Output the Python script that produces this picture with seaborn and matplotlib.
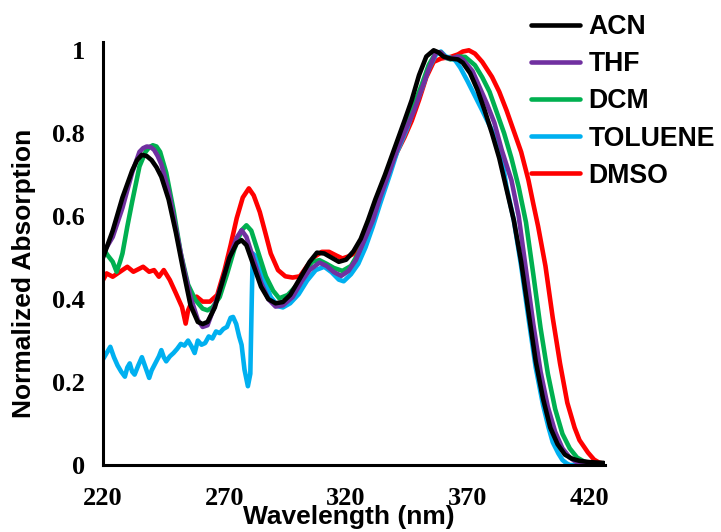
import matplotlib
matplotlib.use("Agg")
import matplotlib.pyplot as plt
import seaborn as sns
import pandas as pd
from matplotlib.lines import Line2D

# ---------------- data ----------------
series_names = ["ACN", "THF", "DCM", "TOLUENE", "DMSO"]
colors = {"ACN": "#000000", "THF": "#7030A0", "DCM": "#00B050",
          "TOLUENE": "#00B0F0", "DMSO": "#FF0000"}

acn_x = [220, 224, 228, 232, 234, 236, 238, 240, 242, 244, 247, 250, 253, 256, 259, 261, 263, 266, 269,
         272, 275, 277, 279, 282, 285, 288, 291, 294, 297, 301, 305, 308, 311, 314, 317, 320, 323, 326,
         329, 332, 336, 340, 344, 347, 350, 353, 356, 358, 360, 363, 366, 368, 371, 374, 377, 380, 383,
         386, 389, 392, 395, 398, 401, 404, 407, 410, 413, 416, 420, 426]
acn_y = [0.50, 0.565, 0.645, 0.71, 0.735, 0.748, 0.745, 0.735, 0.718, 0.695, 0.64, 0.56, 0.47, 0.385,
         0.345, 0.34, 0.345, 0.38, 0.44, 0.50, 0.535, 0.542, 0.53, 0.48, 0.43, 0.40, 0.39, 0.393, 0.41,
         0.45, 0.49, 0.512, 0.51, 0.50, 0.49, 0.495, 0.515, 0.545, 0.59, 0.64, 0.70, 0.765, 0.83, 0.88,
         0.94, 0.985, 1.0, 0.995, 0.985, 0.98, 0.978, 0.97, 0.945, 0.905, 0.855, 0.80, 0.74, 0.665, 0.59,
         0.49, 0.37, 0.25, 0.16, 0.09, 0.05, 0.025, 0.015, 0.01, 0.007, 0.005]

thf_x = [220, 224, 228, 232, 235, 236.5, 238, 239.5, 241, 242.5, 244, 247, 250, 253, 256, 259, 261, 263,
         266, 269, 272, 275, 277, 279, 282, 285, 288, 291, 294, 298, 302, 305, 309, 312, 315, 318, 321,
         324, 327, 331, 334, 338, 341, 345, 348, 351, 354, 357, 359, 361, 363, 366, 368, 372, 375, 378,
         381, 384, 388, 391, 394, 397, 400, 403, 406, 409, 412, 415, 419, 426]
thf_y = [0.51, 0.55, 0.62, 0.705, 0.755, 0.764, 0.768, 0.767, 0.76, 0.745, 0.725, 0.66, 0.57, 0.48,
         0.405, 0.35, 0.333, 0.337, 0.385, 0.44, 0.50, 0.548, 0.566, 0.55, 0.495, 0.44, 0.40, 0.382,
         0.385, 0.405, 0.445, 0.47, 0.488, 0.48, 0.465, 0.456, 0.468, 0.494, 0.535, 0.59, 0.645, 0.71,
         0.76, 0.815, 0.855, 0.905, 0.955, 0.995, 0.995, 0.982, 0.98, 0.985, 0.978, 0.95, 0.91, 0.87,
         0.825, 0.76, 0.687, 0.60, 0.47, 0.34, 0.225, 0.14, 0.08, 0.04, 0.018, 0.006, 0.0, 0.0]

dcm_x = [220, 222, 224, 225.6, 227, 228, 230, 232, 235, 237.5, 239, 240.5, 242, 243.5, 246, 249, 252,
         255, 258, 261, 263, 265, 268, 271, 274, 277, 279, 281, 284, 287, 290, 292.5, 296, 300, 303, 306,
         309, 312, 315, 318.5, 322, 325, 329, 333, 337, 341, 345, 348, 351, 354, 357, 359, 361, 363, 366,
         369, 373, 376, 379, 382, 385, 388, 391, 394, 397, 400, 403, 406, 409, 412, 415, 418, 421, 424,
         426]
dcm_y = [0.522, 0.505, 0.49, 0.466, 0.49, 0.51, 0.575, 0.635, 0.72, 0.755, 0.766, 0.771, 0.768, 0.755,
         0.705, 0.615, 0.51, 0.435, 0.398, 0.377, 0.373, 0.38, 0.405, 0.46, 0.52, 0.566, 0.578, 0.565,
         0.51, 0.455, 0.42, 0.402, 0.41, 0.435, 0.465, 0.49, 0.494, 0.485, 0.475, 0.468, 0.48, 0.51,
         0.565, 0.635, 0.705, 0.77, 0.83, 0.87, 0.915, 0.965, 0.995, 0.995, 0.982, 0.978, 0.985, 0.984,
         0.964, 0.935, 0.90, 0.85, 0.80, 0.74, 0.67, 0.585, 0.46, 0.33, 0.22, 0.135, 0.075, 0.04, 0.018,
         0.008, 0.003, 0.0, 0.0]

tol_x = [220, 221.5, 223, 224.5, 226, 227.5, 229, 230, 231, 232, 233, 234.5, 236, 237.5, 239, 240, 241.5,
         243, 244, 245, 246, 247.5, 249, 250.5, 252, 253.5, 255, 256.5, 257.7, 259, 260.5, 262, 263.5,
         265, 266.5, 268, 269.5, 271, 272.5, 273.5, 274.8, 276, 277, 278.2, 279.6, 280.6, 281.2, 281.6,
         283.5, 286, 289, 292, 294, 297, 300.5, 304, 307.5, 311, 314, 317, 319, 322, 325, 328, 331, 334,
         338, 341, 345, 348, 351, 354, 357, 359, 361, 363, 365, 367, 370, 373, 376, 380, 384, 386, 389,
         392, 395, 398, 401, 403.2, 405, 407.3, 409, 410.7, 412, 426]
tol_y = [0.255, 0.27, 0.285, 0.26, 0.24, 0.225, 0.213, 0.235, 0.245, 0.225, 0.218, 0.24, 0.26, 0.235,
         0.21, 0.228, 0.245, 0.262, 0.277, 0.26, 0.25, 0.262, 0.27, 0.28, 0.292, 0.288, 0.30, 0.285, 0.27,
         0.30, 0.29, 0.294, 0.31, 0.305, 0.322, 0.318, 0.328, 0.333, 0.355, 0.357, 0.34, 0.31, 0.29, 0.23,
         0.19, 0.22, 0.40, 0.51, 0.50, 0.45, 0.405, 0.383, 0.38, 0.39, 0.412, 0.445, 0.47, 0.478, 0.465,
         0.447, 0.443, 0.46, 0.485, 0.525, 0.575, 0.63, 0.70, 0.755, 0.81, 0.86, 0.905, 0.955, 0.99,
         0.997, 0.985, 0.982, 0.975, 0.958, 0.925, 0.89, 0.855, 0.807, 0.743, 0.67, 0.59, 0.48, 0.355,
         0.235, 0.145, 0.092, 0.055, 0.028, 0.012, 0.004, 0.0, 0.0]

dmso_x = [220, 221.5, 224, 227, 230, 232.5, 236.5, 239, 241, 243, 245, 247.5, 250, 252.5, 254, 255, 257,
          258.5, 261, 264, 267, 270, 272.5, 275, 277.5, 280, 282, 284.5, 287, 289, 292, 295, 298, 301,
          304, 307, 310, 313, 316, 318.5, 321, 324, 327, 330, 333, 337, 341, 344, 347, 350, 353, 356, 359,
          363, 366, 368, 370.5, 373, 376, 380, 383, 386, 389, 392, 395, 397, 399, 402, 405, 408, 411, 414,
          416, 419.5, 422, 424, 426]
dmso_y = [0.446, 0.462, 0.454, 0.466, 0.478, 0.466, 0.478, 0.466, 0.47, 0.454, 0.47, 0.446, 0.414, 0.381,
          0.341, 0.373, 0.40, 0.406, 0.394, 0.394, 0.41, 0.47, 0.53, 0.595, 0.645, 0.667, 0.65, 0.61,
          0.555, 0.51, 0.47, 0.455, 0.452, 0.455, 0.48, 0.502, 0.514, 0.514, 0.505, 0.498, 0.503, 0.512,
          0.545, 0.595, 0.64, 0.70, 0.755, 0.79, 0.83, 0.88, 0.935, 0.972, 0.98, 0.984, 0.99, 0.997, 1.0,
          0.992, 0.972, 0.936, 0.90, 0.855, 0.805, 0.755, 0.687, 0.63, 0.575, 0.48, 0.355, 0.245, 0.15,
          0.09, 0.06, 0.03, 0.013, 0.006, 0.003]

x_ticks = [220, 270, 320, 370, 420]
y_ticks = [0, 0.2, 0.4, 0.6, 0.8, 1]
y_tick_labels = ["0", "0.2", "0.4", "0.6", "0.8", "1"]

data = {"ACN": (acn_x, acn_y), "THF": (thf_x, thf_y), "DCM": (dcm_x, dcm_y),
        "TOLUENE": (tol_x, tol_y), "DMSO": (dmso_x, dmso_y)}

frames = []
for name in series_names:
    xs, ys = data[name]
    frames.append(pd.DataFrame({"Wavelength": xs, "Abs": ys, "Solvent": name}))
df = pd.concat(frames, ignore_index=True)

# ---------------- plot ----------------
sns.set_style("white")
plt.rcParams["font.family"] = ["Liberation Sans", "DejaVu Sans"]
plt.rcParams["text.color"] = "black"
plt.rcParams["axes.labelcolor"] = "black"
plt.rcParams["xtick.color"] = "black"
plt.rcParams["ytick.color"] = "black"

fig = plt.figure(figsize=(7.21, 5.32), dpi=100)
ax = fig.add_axes([103 / 721, 1 - 465 / 532, 502 / 721, 423 / 532])

LW = 3.3
for name in reversed(series_names):
    sub = df[df["Solvent"] == name]
    sns.lineplot(data=sub, x="Wavelength", y="Abs", ax=ax, color=colors[name],
                 linewidth=LW, sort=False, estimator=None, legend=False,
                 solid_joinstyle="round", solid_capstyle="round")

ax.set_xlim(220, 426.5)
ax.set_ylim(0, 1.02)
ax.set_xticks(x_ticks)
ax.set_yticks(y_ticks)
ax.set_yticklabels(y_tick_labels)

for side in ["top", "right"]:
    ax.spines[side].set_visible(False)
for side in ["left", "bottom"]:
    ax.spines[side].set_linewidth(2.2)
    ax.spines[side].set_color("black")

ax.tick_params(axis="both", direction="out", length=5, width=2, colors="black",
               labelsize=19)
ax.tick_params(axis="x", pad=11)
ax.tick_params(axis="y", pad=8)
for lab in ax.get_xticklabels() + ax.get_yticklabels():
    lab.set_fontfamily(["Liberation Serif", "DejaVu Serif"])
    lab.set_fontweight("bold")
    lab.set_color("black")

ax.set_xlabel("Wavelength (nm)", fontsize=19, fontweight="bold", va="center", color="black")
ax.set_ylabel("Normalized Absorption", fontsize=19, fontweight="bold", va="center", color="black")
ax.xaxis.set_label_coords(0.49, -0.123)
ax.yaxis.set_label_coords(-0.157, 0.452)

handles = [Line2D([0], [0], color=colors[n], linewidth=LW) for n in series_names]
leg = fig.legend(handles, series_names, loc="upper left",
                 bbox_to_anchor=(531 / 721, 1 - 14 / 532), frameon=False,
                 prop={"family": "Liberation Sans", "weight": "bold", "size": 19.2},
                 handlelength=1.85, handletextpad=0.3, labelspacing=0.42,
                 borderpad=0, borderaxespad=0)
for t in leg.get_texts():
    t.set_color("black")

fig.savefig("out.png", dpi=100)
